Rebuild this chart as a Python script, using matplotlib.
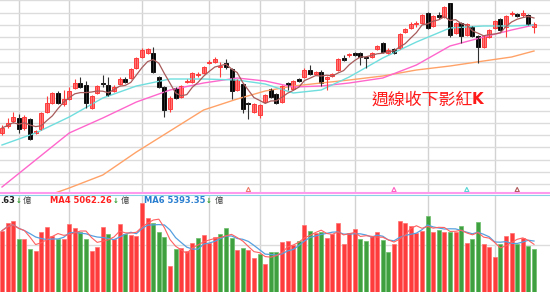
import matplotlib.pyplot as plt
from matplotlib.lines import Line2D
import numpy as np
import pandas as pd

# weekly candles, arbitrary index-point units
opens  = [67, 74, 79, 82, 72, 81, 67, 71, 88, 97, 107, 96, 101, 112, 117, 115, 92, 107, 117, 115,
          109, 116, 121, 122, 132, 143, 147, 147, 123, 113, 91, 112, 103, 118, 118, 125, 127, 137, 138, 133,
          137, 131, 110, 116, 97, 88, 85, 98, 111, 106, 98, 117, 111, 121, 123, 130, 126, 128, 121, 124,
          130, 142, 145, 147, 147, 143, 143, 151, 157, 147, 151, 152, 168, 172, 176, 177, 187, 174, 185, 183,
          197, 167, 177, 165, 173, 164, 153, 163, 172, 181, 173, 186, 186, 185, 185, 173]
highs  = [75, 82, 88, 86, 85, 82, 70, 88, 104, 108, 109, 110, 113, 121, 123, 119, 105, 115, 125, 123,
          115, 123, 123, 132, 143, 152, 152, 153, 124, 114, 104, 113, 115, 121, 128, 128, 134, 140, 143, 138,
          141, 132, 121, 117, 98, 97, 96, 106, 112, 107, 115, 118, 120, 122, 132, 135, 129, 130, 124, 127,
          142, 145, 147, 148, 148, 144, 148, 155, 158, 152, 152, 167, 172, 178, 179, 186, 188, 185, 188, 194,
          197, 178, 178, 177, 174, 165, 165, 171, 180, 182, 185, 189, 187, 190, 186, 178]
lows   = [65, 72, 77, 67, 70, 60, 66, 70, 87, 96, 96, 94, 100, 111, 112, 92, 91, 106, 113, 104,
          108, 115, 117, 121, 131, 142, 146, 127, 112, 83, 88, 101, 102, 117, 117, 123, 126, 136, 137, 123,
          131, 101, 109, 87, 81, 87, 82, 97, 102, 96, 97, 110, 110, 118, 122, 125, 125, 114, 110, 123,
          129, 139, 143, 144, 135, 132, 142, 150, 147, 146, 146, 151, 167, 171, 173, 176, 171, 173, 181, 182,
          163, 166, 157, 164, 163, 137, 152, 162, 171, 169, 163, 184, 183, 183, 175, 167]
closes = [72, 77, 83, 71, 83, 61, 69, 87, 97, 107, 97, 101, 109, 117, 113, 97, 104, 114, 116, 105,
          113, 121, 118, 131, 142, 150, 151, 128, 113, 90, 102, 102, 114, 119, 127, 126, 133, 138, 141, 134,
          133, 109, 120, 91, 96, 96, 95, 105, 103, 97, 114, 115, 119, 119, 130, 126, 128, 117, 123, 126,
          141, 140, 146, 145, 143, 142, 147, 154, 148, 150, 147, 166, 171, 176, 177, 185, 172, 184, 183, 193,
          165, 177, 164, 176, 164, 153, 164, 170, 179, 170, 184, 187, 184, 187, 176, 176]

# weekly turnover (億)
vol = [6500, 7350, 7530, 5590, 5590, 4560, 4380, 6330, 6920, 5940, 5590, 5590, 7180, 6750, 6330, 5590,
       4380, 4740, 6860, 6150, 5590, 7210, 6150, 6040, 5940, 9400, 7810, 7350, 6330, 5800, 2760, 4530,
       4700, 4380, 5160, 5690, 6040, 5160, 5800, 6120, 6750, 5760, 4450, 4630, 4450, 3570, 4030, 2970,
       4210, 4210, 5270, 5440, 4980, 5410, 7100, 6500, 6220, 6390, 5690, 6150, 7280, 5090, 6220, 6650,
       5590, 5410, 5970, 6330, 5510, 4270, 5060, 7560, 7280, 7030, 6220, 6470, 8060, 6330, 6570, 6390,
       6390, 6390, 7030, 5230, 5590, 7390, 5060, 4800, 3740, 5090, 5970, 6220, 5060, 5690, 4910, 4560]
vol_up = [1, 1, 1, 0, 1, 0, 1, 1, 1, 1, 0, 1, 1, 1, 0, 0, 1, 1, 1, 0, 1, 1, 0, 1, 1, 1, 1, 0, 0, 0, 1, 0,
          1, 1, 1, 0, 1, 1, 1, 0, 0, 0, 1, 0, 1, 1, 0, 1, 0, 0, 1, 1, 1, 0, 1, 0, 1, 0, 1, 1, 1, 1, 1, 1,
          0, 0, 1, 1, 0, 0, 1, 1, 1, 1, 1, 1, 0, 1, 0, 1, 0, 1, 0, 1, 0, 0, 1, 1, 1, 0, 1, 1, 0, 1, 0, 0]

# longer moving averages at a few weeks
ma_idx = [0, 6, 12, 18, 24, 30, 36, 42, 47, 52, 57, 62, 68, 74, 80, 86, 91, 95]
ma_cyan = [55, 67, 83, 102, 114, 121, 121, 120, 116, 107, 110, 123, 142, 158, 172, 174, 174, 175]
ma_pink = [13, 40, 67, 82, 98, 110, 117, 122, 119, 113, 114, 117, 122, 135, 154, 163, 170, 175]
ma_orange = [-15, 0, 12, 25, 48, 69, 90, 101, 109, 114, 117, 120, 124, 130, 134, 139, 143, 149]

month_idx = [3, 12, 25, 37, 46, 54, 63, 76, 88]
turn_idx = [44, 70, 83, 92]
turn_col = ['#f07868', '#ff5fc0', '#55d5d5', '#b05a5a']

W, H = 550, 292
n = len(closes)
x = np.arange(n)
o, h, l, c = map(np.array, (opens, highs, lows, closes))
up = c >= o

fig = plt.figure(figsize=(5.5, 2.92), dpi=100)
ax = fig.add_axes([0, 1 - 192 / H, 1, 192 / H])
axv = fig.add_axes([0, 0, 1, 96 / H])

for a in (ax, axv):
    a.set_xlim(-2 / 5.6, 548 / 5.6)
    for s in a.spines.values():
        s.set_visible(False)
    a.set_xticks(month_idx)
    a.tick_params(length=0, labelbottom=False, labelleft=False)
    a.grid(True, axis='x', color='#d2d2d2', lw=1)
    a.set_axisbelow(True)

# price panel
ax.set_ylim(8, 200)
ax.set_yticks(np.arange(16, 200, 12.25))
ax.grid(True, axis='y', color='#dcdcdc', lw=1)

ma5 = pd.Series(closes).rolling(5, min_periods=1).mean()
ax.plot(ma_idx, ma_orange, color='#ffa268', lw=1)
ax.plot(ma_idx, ma_pink, color='#ff66cc', lw=1)
ax.plot(ma_idx, ma_cyan, color='#70dede', lw=1)

ax.vlines(x, l, h, colors=np.where(up, '#ff3a3a', '#303030'), lw=0.8)
body = np.maximum(np.abs(c - o), 0.8)
ax.bar(x, body, bottom=np.minimum(o, c), width=0.68,
       color=np.where(up, '#ff7a7a', '#000000'),
       edgecolor=np.where(up, '#ff2828', '#000000'), lw=0.6)
ax.plot(x, ma5, color='#a85a5a', lw=0.9)

ax.scatter(turn_idx, [10.5] * len(turn_idx), marker='^', s=9, facecolors='none',
           edgecolors=turn_col, lw=0.8)

ax.text(66, 100, '週線收下影紅', color='#ff1a1a', fontsize=12.2,
        family=['Noto Sans CJK TC', 'DejaVu Sans'], va='center', ha='left')
ax.text(83.8, 101, 'K', color='#ff1a1a', fontsize=10.8, fontweight='bold', va='center', ha='left')

# volume panel
axv.set_ylim(0, 96 * 106)
axv.set_yticks([4980])
axv.grid(True, axis='y', color='#dcdcdc', lw=1)
vu = np.array(vol_up) == 1
axv.bar(x, vol, width=0.74, color=np.where(vu, '#ff3c3c', '#3fa03f'),
        edgecolor=np.where(vu, '#ff7070', '#6cbf6c'), lw=0.5)
vs = pd.Series(vol)
axv.plot(x, vs.rolling(6, min_periods=1).mean(), color='#55a0e0', lw=0.9)
axv.plot(x, vs.rolling(4, min_periods=1).mean(), color='#ff6060', lw=0.8)

# panel separator
fig.add_artist(Line2D([0, 1], [1 - 193 / H] * 2, transform=fig.transFigure, color='#ff99ee', lw=1.5))
fig.add_artist(Line2D([0, 1], [1 - 194.6 / H] * 2, transform=fig.transFigure, color='#88d4e6', lw=0.8))

# volume legend line
ty = 1 - 200.5 / H
cjk = ['Noto Sans CJK TC', 'DejaVu Sans']
labels = [(0, '.63', '#222222'), (50, 'MA4 5062.26', '#ff2020'), (144, 'MA6 5393.35', '#2a7fd0')]
arrows = [18.3, 115.6, 209]
units = [22.8, 120.8, 214.5]
for px, s, col in labels:
    fig.text(px / W, ty, s, color=col, fontsize=6.0, fontweight='bold', va='center', ha='left')
for px in arrows:
    fig.text(px / W, ty, '↓', color='#2a9a2a', fontsize=5.0, fontweight='bold', va='center', ha='center')
for px in units:
    fig.text(px / W, ty, '億', color='#444444', fontsize=6.0, family=cjk, va='center', ha='left')

fig.savefig('out.png', dpi=100)
